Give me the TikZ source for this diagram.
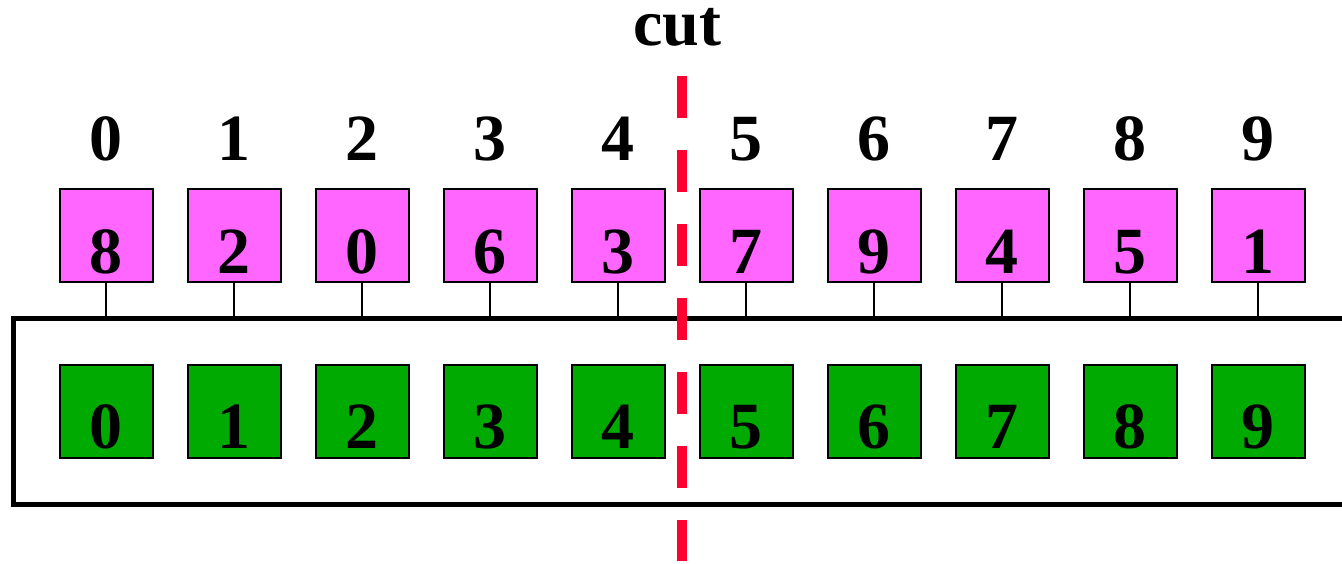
\documentclass[tikz,border=0pt]{standalone}
\usepackage{fontspec}
\setmainfont{Liberation Serif}
\definecolor{slotpink}{HTML}{FF66FF}
\definecolor{slotgreen}{HTML}{00AA00}
\definecolor{cutred}{HTML}{FF0033}
\tikzset{
  cell/.style={draw=black, line width=2pt, minimum width=93pt, minimum height=93pt, inner sep=0pt, outer sep=0pt},
  pinkcell/.style={cell, fill=slotpink},
  greencell/.style={cell, fill=slotgreen},
  digit/.style={font=\fontsize{66}{66}\selectfont\bfseries, anchor=base, inner sep=0pt, text height=45pt, text depth=0pt},
  link/.style={draw=black, line width=2pt},
  frame/.style={draw=black, line width=5pt},
  cutline/.style={draw=cutred, line width=10.5pt, dash pattern=on 42pt off 32pt}
}
\begin{document}
\begin{tikzpicture}[x=1pt, y=-1pt]
  \useasboundingbox (0,0) rectangle (1342,563);

  % the container, open on the right where it runs off the page
  \draw[frame] (1345,318) -- (13,318) -- (13,504) -- (1345,504);

  % permutation cells on top, identity cells in the container
  \foreach \p [count=\i from 0] in {8,2,0,6,3,7,9,4,5,1} {
    \pgfmathsetmacro{\cx}{106+128*\i}
    \node[digit] (i\i) at (\cx,160) {\i};
    \node[pinkcell] (p\i) at (\cx,235.5) {};
    \node[digit] (pv\i) at ([yshift=9pt]p\i.south) {\p};
    \node[greencell] (g\i) at (\cx,411.5) {};
    \node[digit] (gv\i) at ([yshift=10pt]g\i.south) {\i};
    \coordinate (t\i) at (\cx,316);
    \draw[link] (p\i.south) -- (t\i);
  }

  % the cut between positions 4 and 5
  \node[digit, text height=37pt] (cut) at (677,45) {cut};
  \coordinate (cuttop) at (682,76);
  \coordinate (cutbot) at (682,561);
  \draw[cutline] (cuttop) -- (cutbot);
\end{tikzpicture}
\end{document}
